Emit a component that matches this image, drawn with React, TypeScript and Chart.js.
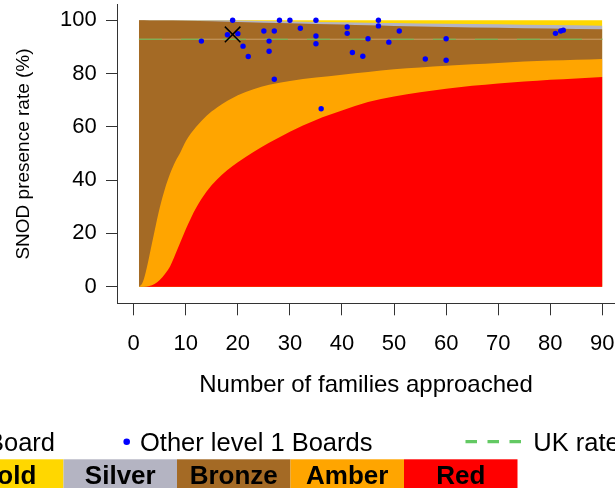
import { useEffect, useRef } from 'react';
import { Chart, registerables } from 'chart.js';

Chart.register(...registerables);

const FONT = '"Liberation Sans", Arial, Helvetica, sans-serif';

// Axis ticks
const xTicks = [0, 10, 20, 30, 40, 50, 60, 70, 80, 90];
const yTicks = [0, 20, 40, 60, 80, 100];

// UK rate line
const ukX = [1, 90];
const ukRate = [92.9, 92.9];

// This board (cross marker)
const thisBoardN = [19];
const thisBoardRate = [94.7];

// Other level 1 boards
const boardN = [13, 18, 19, 20, 21, 22, 25, 26, 26, 27, 27, 28, 30, 32, 35, 35, 35, 36, 41, 41, 42, 44, 45, 47, 47, 49, 51, 56, 60, 60, 81, 82, 82.5];
const boardRate = [92.2, 94.6, 100, 95.0, 90.3, 86.4, 96.0, 92.2, 88.4, 96.0, 77.9, 100, 100, 97.0, 100, 94.1, 91.2, 66.8, 97.5, 95.1, 87.9, 86.5, 93.1, 100, 97.9, 91.8, 96.0, 85.5, 93.1, 85.0, 95.1, 96.0, 96.3];

// Band upper boundaries
const goldX = [1, 90];
const goldTop = [100, 100];

const silverX = [1, 15, 20, 30, 40, 45, 50, 60, 70, 80, 90];
const silverTop = [100, 100, 99.9, 99.6, 99.3, 99.1, 99.0, 98.7, 98.5, 98.2, 98.0];

const bronzeX = [1, 3, 5, 10, 20, 30, 40, 45, 50, 60, 70, 80, 90];
const bronzeTop = [100, 99.95, 99.9, 99.8, 99.4, 98.9, 98.4, 98.1, 97.9, 97.5, 97.2, 96.9, 96.6];

const amberX = [1, 1.5, 2, 2.5, 3, 4, 5, 6, 7, 8, 9, 10, 12, 14, 16, 18, 20, 23, 26, 30, 35, 40, 45, 50, 55, 60, 65, 70, 75, 80, 85, 90];
const amberTop = [0, 0.8, 3.2, 7.0, 11.5, 20.8, 29.6, 36.8, 42.5, 47, 50.6, 54.6, 60, 64.2, 67.3, 69.8, 71.9, 74.1, 75.8, 77.2, 78.5, 79.6, 80.6, 81.6, 82.3, 82.9, 83.5, 84.0, 84.5, 84.9, 85.2, 85.5];

const redX = [1, 2, 3, 4, 5, 6, 7, 8, 9, 10, 11, 12, 14, 16, 18, 20, 23, 26, 30, 35, 40, 45, 50, 55, 60, 65, 70, 75, 80, 85, 90];
const redTop = [0, 0, 0.3, 1.0, 2.5, 4.8, 7.7, 12.2, 16.9, 21.6, 25.8, 29.6, 35.7, 40.2, 43.8, 46.7, 50.6, 54.0, 58.2, 62.6, 66.1, 69.3, 71.4, 73.0, 74.3, 75.4, 76.3, 77.0, 77.7, 78.2, 78.7];

// Legend
const bandNames = ['Gold', 'Silver', 'Bronze', 'Amber', 'Red'];
const bandColors = ['#FFD700', '#B4B4C2', '#A46A25', '#FFA500', '#FF0000'];

const pts = (xs: number[], ys: number[]) => xs.map((x, i) => ({ x, y: ys[i] }));

const band = (xs: number[], ys: number[], color: string) => ({
  data: pts(xs, ys),
  fill: 'origin',
  backgroundColor: color,
  borderColor: 'transparent',
  borderWidth: 0,
  pointRadius: 0,
  pointHoverRadius: 0,
  cubicInterpolationMode: 'monotone',
});

const legendPlugin = {
  id: 'customLegend',
  afterDraw(chart: any) {
    const c = chart.ctx as CanvasRenderingContext2D;
    c.save();
    // Row 1
    c.font = `25.5px ${FONT}`;
    c.fillStyle = '#000';
    c.textBaseline = 'alphabetic';
    c.textAlign = 'right';
    c.fillText('\u00D7 This Board', 55, 451);
    c.fillStyle = '#0000FF';
    c.beginPath();
    c.arc(126.7, 441.7, 3.3, 0, Math.PI * 2);
    c.fill();
    c.fillStyle = '#000';
    c.textAlign = 'left';
    c.fillText('Other level 1 Boards', 140, 451);
    c.strokeStyle = '#63C963';
    c.lineWidth = 3.3;
    c.setLineDash([11.5, 10.5]);
    c.beginPath();
    c.moveTo(465.5, 441.7);
    c.lineTo(523.5, 441.7);
    c.stroke();
    c.setLineDash([]);
    c.fillText('UK rate', 533.3, 451);
    // Row 2: colour bands
    const w = 113.5;
    const x0 = -50;
    c.font = `bold 26px ${FONT}`;
    c.textAlign = 'center';
    bandNames.forEach((name, i) => {
      c.fillStyle = bandColors[i];
      c.fillRect(x0 + i * w, 459.3, w, 40);
      c.fillStyle = '#000';
      c.fillText(name, x0 + i * w + w / 2, 484.3);
    });
    c.restore();
  },
};

export default function App() {
  const ref = useRef<HTMLCanvasElement>(null);
  useEffect(() => {
    const canvas = ref.current;
    if (!canvas) return;
    const chart = new Chart(canvas, {
      type: 'line',
      data: {
        datasets: [
          {
            data: pts(thisBoardN, thisBoardRate),
            showLine: false,
            pointStyle: 'crossRot',
            pointRadius: 11,
            pointHoverRadius: 11,
            pointBorderColor: '#000',
            pointBorderWidth: 1.5,
            pointBackgroundColor: 'transparent',
          },
          {
            data: pts(boardN, boardRate),
            showLine: false,
            pointRadius: 2.7,
            pointHoverRadius: 2.7,
            pointBackgroundColor: '#0000FF',
            pointBorderColor: '#0000FF',
            pointBorderWidth: 0,
          },
          {
            data: pts(ukX, ukRate),
            borderColor: '#66BB55',
            borderWidth: 1,
            borderDash: [23, 19],
            pointRadius: 0,
            pointHoverRadius: 0,
            fill: false,
          },
          {
            data: pts(ukX, ukRate),
            borderColor: '#C9A06A',
            borderWidth: 1,
            pointRadius: 0,
            pointHoverRadius: 0,
            fill: false,
          },
          band(redX, redTop, bandColors[4]),
          band(amberX, amberTop, bandColors[3]),
          band(bronzeX, bronzeTop, bandColors[2]),
          band(silverX, silverTop, bandColors[1]),
          band(goldX, goldTop, bandColors[0]),
        ] as any,
      },
      options: {
        responsive: false,
        animation: false,
        events: [],
        layout: { autoPadding: false, padding: { top: 4.7, left: 0, right: 0, bottom: 0 } },
        plugins: {
          legend: { display: false },
          tooltip: { enabled: false },
        },
        scales: {
          x: {
            type: 'linear',
            position: 'bottom',
            min: -3.207,
            max: 92.43,
            afterBuildTicks: (s: any) => {
              s.ticks = xTicks.map((v) => ({ value: v }));
            },
            afterFit: (s: any) => {
              s.height = 184.7;
              s.paddingLeft = 0;
              s.paddingRight = 0;
            },
            border: { display: true, color: '#333', width: 1 },
            grid: {
              display: true,
              drawOnChartArea: false,
              drawTicks: true,
              tickLength: 12,
              color: '#333',
            },
            ticks: {
              autoSkip: false,
              maxRotation: 0,
              padding: 15.5,
              color: '#000',
              font: { family: FONT, size: 22 },
            },
            title: {
              display: true,
              text: 'Number of families approached',
              color: '#000',
              font: { family: FONT, size: 24 },
              padding: { top: 0, bottom: 87.8 },
            },
          },
          y: {
            type: 'linear',
            position: 'left',
            min: -6.23,
            max: 105.86,
            afterBuildTicks: (s: any) => {
              s.ticks = yTicks.map((v) => ({ value: v }));
            },
            afterFit: (s: any) => {
              s.width = 117;
              s.paddingTop = 0;
              s.paddingBottom = 0;
            },
            border: { display: true, color: '#333', width: 1 },
            grid: {
              display: true,
              drawOnChartArea: false,
              drawTicks: true,
              tickLength: 11,
              color: '#333',
            },
            ticks: {
              autoSkip: false,
              padding: 9.3,
              color: '#000',
              font: { family: FONT, size: 22 },
            },
            title: {
              display: true,
              text: 'SNOD presence rate (%)',
              color: '#000',
              font: { family: FONT, size: 19 },
              padding: { top: 12, bottom: 0 },
            },
          },
        },
      } as any,
      plugins: [legendPlugin],
    });
    return () => chart.destroy();
  }, []);
  return (
    <div style={{ position: 'fixed', left: 0, top: 0, width: 615, height: 488, background: '#fff' }}>
      <canvas ref={ref} width={615} height={488} style={{ display: 'block', width: 615, height: 488 }} />
    </div>
  );
}
